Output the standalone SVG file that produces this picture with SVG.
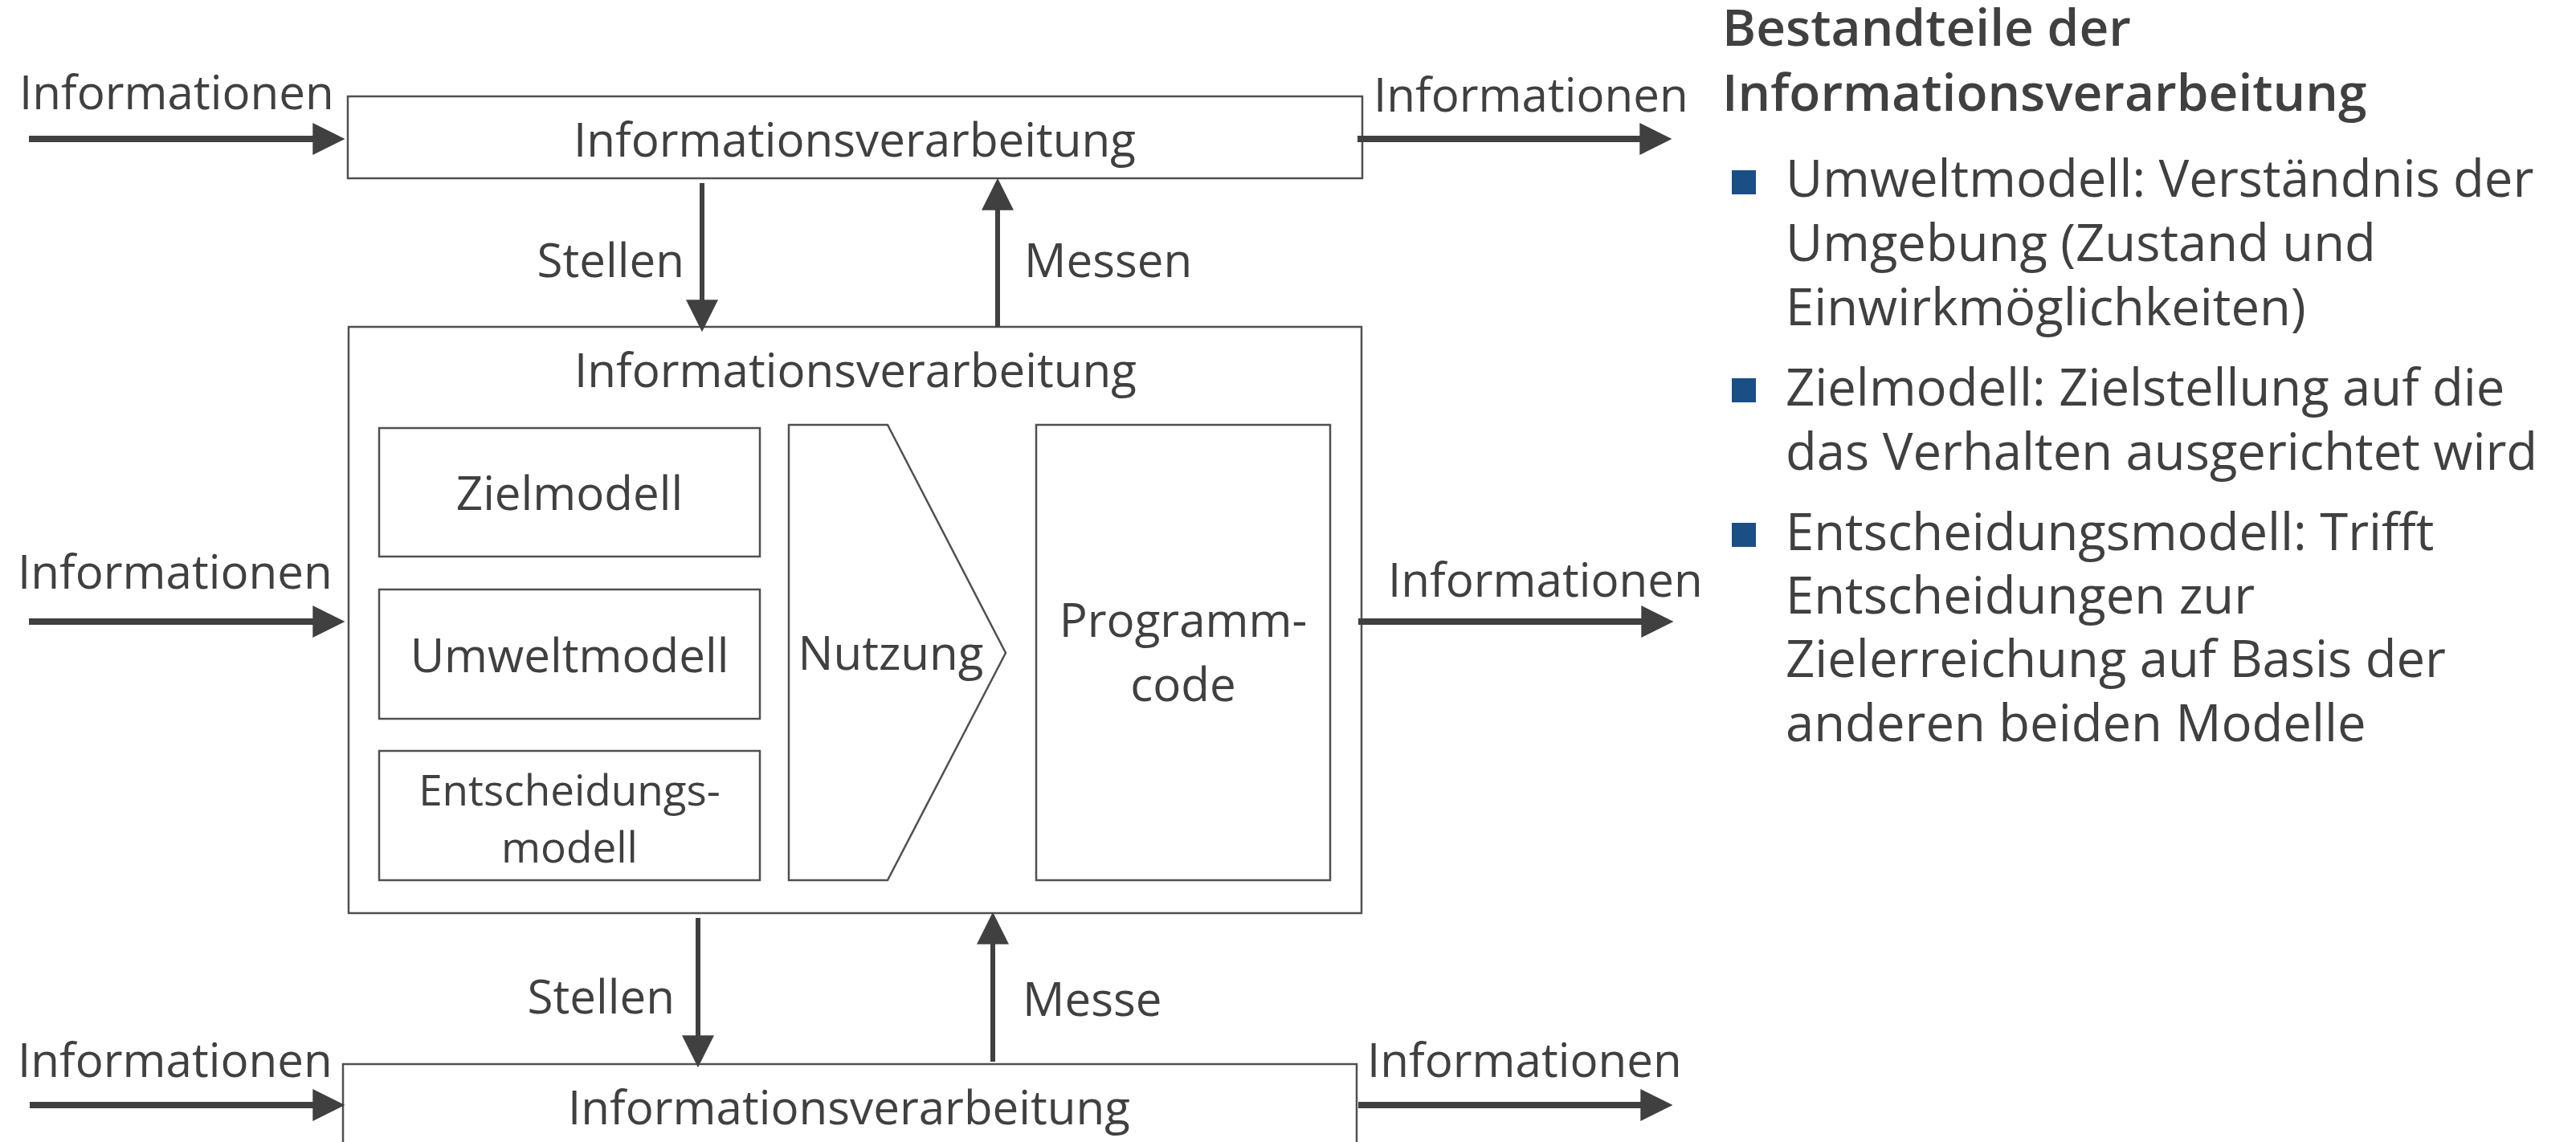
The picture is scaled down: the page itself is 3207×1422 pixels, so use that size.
<svg xmlns="http://www.w3.org/2000/svg" width="3207" height="1422" viewBox="0 0 3207 1422">
<style>
  text { font-family: "Open Sans", "Noto Sans", "DejaVu Sans", sans-serif; fill: #404040; }
  .lbl { font-size: 58.3px; }
  .sm { font-size: 53px; }
  .mid { text-anchor: middle; }
  .end { text-anchor: end; }
  .box { fill: #ffffff; stroke: #505050; stroke-width: 2.5; }
  .h { stroke: #404040; stroke-width: 8; fill: none; }
  .v { stroke: #404040; stroke-width: 6; fill: none; }
  .head { font-size: 64px; font-weight: 600; }
  .bul { font-size: 63.4px; }
  .sq { fill: #1A4F86; }
</style>
<defs>
  <marker id="ah" markerUnits="userSpaceOnUse" markerWidth="40" markerHeight="40" viewBox="0 0 34 34" refX="4" refY="17" orient="auto">
    <path d="M0,0 L34,17 L0,34 z" fill="#404040"/>
  </marker>
</defs>

<g id="box-top">
  <rect class="box" x="433" y="120" width="1263" height="102"/>
  <text class="lbl mid" x="1064" y="195">Informationsverarbeitung</text>
</g>

<g id="box-middle">
  <rect class="box" x="434" y="407" width="1261" height="730"/>
  <text class="lbl mid" x="1065" y="482">Informationsverarbeitung</text>
</g>

<g id="zielmodell">
  <rect class="box" x="472" y="533" width="474" height="160"/>
  <text class="lbl mid" x="709" y="635">Zielmodell</text>
</g>

<g id="umweltmodell">
  <rect class="box" x="472" y="734" width="474" height="161"/>
  <text class="lbl mid" x="709" y="837">Umweltmodell</text>
</g>

<g id="entscheidungsmodell">
  <rect class="box" x="472" y="935" width="474" height="161"/>
  <text class="sm mid" x="709" y="1003">Entscheidungs-</text>
  <text class="sm mid" x="709" y="1074">modell</text>
</g>

<g id="nutzung">
  <polygon class="box" points="982,529 1105,529 1252,813 1105,1096 982,1096"/>
  <text class="lbl mid" x="1109" y="834">Nutzung</text>
</g>

<g id="programmcode">
  <rect class="box" x="1290" y="529" width="366" height="567"/>
  <text class="lbl mid" x="1473" y="793">Programm-</text>
  <text class="lbl mid" x="1473" y="873">code</text>
</g>

<g id="box-bottom">
  <rect class="box" x="427" y="1325" width="1262" height="130"/>
  <text class="lbl mid" x="1057" y="1400">Informationsverarbeitung</text>
</g>

<g id="connectors">
  <line class="h" x1="36" y1="173" x2="394" y2="173" marker-end="url(#ah)"/>
  <line class="h" x1="1690" y1="173" x2="2046" y2="173" marker-end="url(#ah)"/>
  <line class="h" x1="36" y1="774" x2="394" y2="774" marker-end="url(#ah)"/>
  <line class="h" x1="1691" y1="774" x2="2048" y2="774" marker-end="url(#ah)"/>
  <line class="h" x1="37" y1="1376" x2="394" y2="1376" marker-end="url(#ah)"/>
  <line class="h" x1="1691" y1="1376" x2="2047" y2="1376" marker-end="url(#ah)"/>
  <line class="v" x1="874" y1="228" x2="874" y2="378" marker-end="url(#ah)"/>
  <line class="v" x1="1242" y1="407" x2="1242" y2="257" marker-end="url(#ah)"/>
  <line class="v" x1="869" y1="1143" x2="869" y2="1294" marker-end="url(#ah)"/>
  <line class="v" x1="1236" y1="1322" x2="1236" y2="1171" marker-end="url(#ah)"/>

  <text class="lbl" x="24" y="136">Informationen</text>
  <text class="lbl" x="1710" y="139">Informationen</text>
  <text class="lbl" x="22" y="733">Informationen</text>
  <text class="lbl" x="1728" y="743">Informationen</text>
  <text class="lbl" x="22" y="1341">Informationen</text>
  <text class="lbl" x="1702" y="1341">Informationen</text>
  <text class="lbl end" x="852" y="345">Stellen</text>
  <text class="lbl" x="1275" y="345">Messen</text>
  <text class="lbl end" x="840" y="1262">Stellen</text>
  <text class="lbl" x="1273" y="1265">Messe</text>
</g>

<g id="legend">
  <text class="head" x="2144" y="57">Bestandteile der</text>
  <text class="head" x="2144" y="138">Informationsverarbeitung</text>
  <rect class="sq" x="2156" y="212" width="30" height="30"/>
  <text class="bul" x="2223" y="245">Umweltmodell: Verständnis der</text>
  <text class="bul" x="2223" y="325">Umgebung (Zustand und</text>
  <text class="bul" x="2223" y="405">Einwirkmöglichkeiten)</text>
  <rect class="sq" x="2156" y="471" width="30" height="30"/>
  <text class="bul" x="2223" y="505">Zielmodell: Zielstellung auf die</text>
  <text class="bul" x="2223" y="585">das Verhalten ausgerichtet wird</text>
  <rect class="sq" x="2156" y="651" width="30" height="30"/>
  <text class="bul" x="2223" y="685">Entscheidungsmodell: Trifft</text>
  <text class="bul" x="2223" y="764">Entscheidungen zur</text>
  <text class="bul" x="2223" y="843">Zielerreichung auf Basis der</text>
  <text class="bul" x="2223" y="923">anderen beiden Modelle</text>
</g>
</svg>
